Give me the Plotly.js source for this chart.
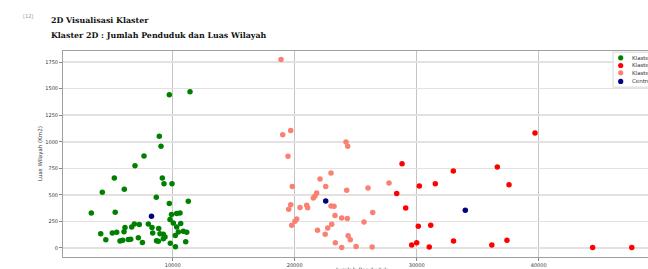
<!DOCTYPE html>
<html><head><meta charset="utf-8">
<script src="https://cdn.plot.ly/plotly-3.0.1.min.js"></script>
<style>
html,body{margin:0;padding:0;overflow:hidden;background:#fff}
#wrap{width:648px;height:269px;overflow:hidden;position:relative}
#chart{width:720px;height:269px}
</style>
</head><body><div id="wrap"><div id="chart"></div></div>
<script>
// Klaster 1 (green)
const k1X = [9722,11418,8902,9041,7648,6910,5213,9148,9287,9943,6033,4230,8656,9722,11279,3328,5287,9902,10328,10599,9779,6853,7263,6640,8000,10050,10656,4099,5049,5410,6008,6090,8304,8361,8853,8959,9230,9369,10328,10459,10869,11148,4517,5680,5902,6361,6558,7181,7517,8673,8820,9230,9804,10213,10222,11066];
const k1Y = [1443,1471,1051,957,866,775,659,659,604,606,552,524,477,418,441,329,336,315,324,329,268,226,220,198,225,235,230,135,141,147,152,192,192,141,183,135,129,103,198,151,157,148,77,66,72,79,82,97,51,68,63,88,44,117,11,58];
// Klaster 2 (red)
const k2X = [28800,30214,28362,29099,30132,31149,29590,30001,31030,33001,31526,36608,37567,39698,33020,37400,36160,44420,47630];
const k2Y = [794,583,512,376,204,214,27,50,10,724,606,762,596,1082,65,73,28,5,5];
// Klaster 3 (salmon)
const k3X = [18878,19017,19673,19451,19804,19673,19509,20435,20984,21060,22075,22977,22542,21804,21665,21526,22977,23223,23305,24206,24343,24263,26009,27731,23853,24312,26394,25681,23034,22706,22500,21870,24380,24560,23330,23853,25030,26350,20165,20025,19755];
const k3Y = [1775,1067,1107,863,580,408,364,380,402,378,649,706,580,517,489,470,395,392,305,997,957,543,564,612,282,277,333,245,223,188,130,167,116,77,50,5,15,10,273,251,213];
// Centroids
const cX = [8263,22542,33985];
const cY = [298,442,355];

const legendNames = ['Klaster 1','Klaster 2','Klaster 3','Centroid'];
const colors = ['#008000','#ff0000','#fa8072','#000080'];
const yTicks = [0,250,500,750,1000,1250,1500,1750];
const xTicks = [10000,20000,30000,40000];

const mk = (x,y,c,n)=>({type:'scatter',mode:'markers',x:x,y:y,name:n,
  marker:{color:c,size:5.5,line:{width:0}},showlegend:false,hoverinfo:'x+y'});

const data = [mk(k1X,k1Y,colors[0],legendNames[0]),mk(k2X,k2Y,colors[1],legendNames[1]),
  mk(k3X,k3Y,colors[2],legendNames[2]),mk(cX,cY,colors[3],legendNames[3])];

// plot area in px: left 63, right 661, top 50.5, bottom 256.7
const L=63,R=661,T=50.5,B=256.7,W=720,H=269;
const px=(x)=>(x-L)/(R-L), py=(y)=>(B-y)/(B-T);

const shapes=[{type:'rect',xref:'paper',yref:'paper',x0:px(613),x1:px(700),y0:py(86.7),y1:py(51.7),
  line:{color:'#d8d8d8',width:1},fillcolor:'rgba(255,255,255,0.85)'}];
const annotations=[];
const rows=[57.3,65,72.3,81];
rows.forEach((r,i)=>{
  shapes.push({type:'circle',xref:'paper',yref:'paper',x0:px(620.7-2.6),x1:px(620.7+2.6),
    y0:py(r+2.6),y1:py(r-2.6),fillcolor:colors[i],line:{width:0}});
  annotations.push({xref:'paper',yref:'paper',x:px(630),y:py(r),xanchor:'left',yanchor:'middle',
    text:legendNames[i],showarrow:false,font:{family:'DejaVu Sans',size:5.5,color:'#333'}});
});
annotations.push({xref:'paper',yref:'paper',x:px(49),y:py(20),xanchor:'left',yanchor:'middle',showarrow:false,
  text:'<b>2D Visualisasi Klaster</b>',font:{family:'DejaVu Serif',size:7.9,color:'#111'}});
annotations.push({xref:'paper',yref:'paper',x:px(49),y:py(34.5),xanchor:'left',yanchor:'middle',showarrow:false,
  text:'<b>Klaster 2D : Jumlah Penduduk dan Luas Wilayah</b>',font:{family:'DejaVu Serif',size:7.9,color:'#111'}});
annotations.push({xref:'paper',yref:'paper',x:px(21),y:py(15.5),xanchor:'left',yanchor:'middle',showarrow:false,
  text:'[12]',font:{family:'DejaVu Sans',size:5,color:'#999'}});
annotations.push({xref:'paper',yref:'paper',x:px(40),y:0.5,xanchor:'center',yanchor:'middle',showarrow:false,
  textangle:-90,text:'Luas Wilayah (Km2)',font:{family:'DejaVu Sans',size:5.5,color:'#333'}});
annotations.push({xref:'paper',yref:'paper',x:0.5,y:py(270),xanchor:'center',yanchor:'middle',showarrow:false,
  text:'Jumlah Penduduk',font:{family:'DejaVu Sans',size:6,color:'#333'}});

const layout={width:W,height:H,margin:{l:L,r:W-R,t:T,b:H-B,pad:0},
  paper_bgcolor:'#fff',plot_bgcolor:'#fff',showlegend:false,
  xaxis:{range:[1008,50026],tickvals:xTicks,ticktext:xTicks.map(String),showgrid:true,gridcolor:'#c4c4c4',gridwidth:1,
    zeroline:false,showline:true,mirror:true,linecolor:'#a0a0a0',linewidth:1,ticks:'outside',ticklen:3,tickcolor:'#888',
    tickfont:{family:'DejaVu Sans',size:5,color:'#333'}},
  yaxis:{range:[-85,1855],tickvals:yTicks,ticktext:yTicks.map(String),showgrid:true,gridcolor:'#e6e1e1',gridwidth:1.5,
    zeroline:false,showline:true,mirror:true,linecolor:'#a0a0a0',linewidth:1,ticks:'outside',ticklen:3,tickcolor:'#888',
    tickfont:{family:'DejaVu Sans',size:5,color:'#333'}},
  shapes:shapes,annotations:annotations};
Plotly.newPlot('chart',data,layout,{staticPlot:true,displayModeBar:false});
</script></body></html>
